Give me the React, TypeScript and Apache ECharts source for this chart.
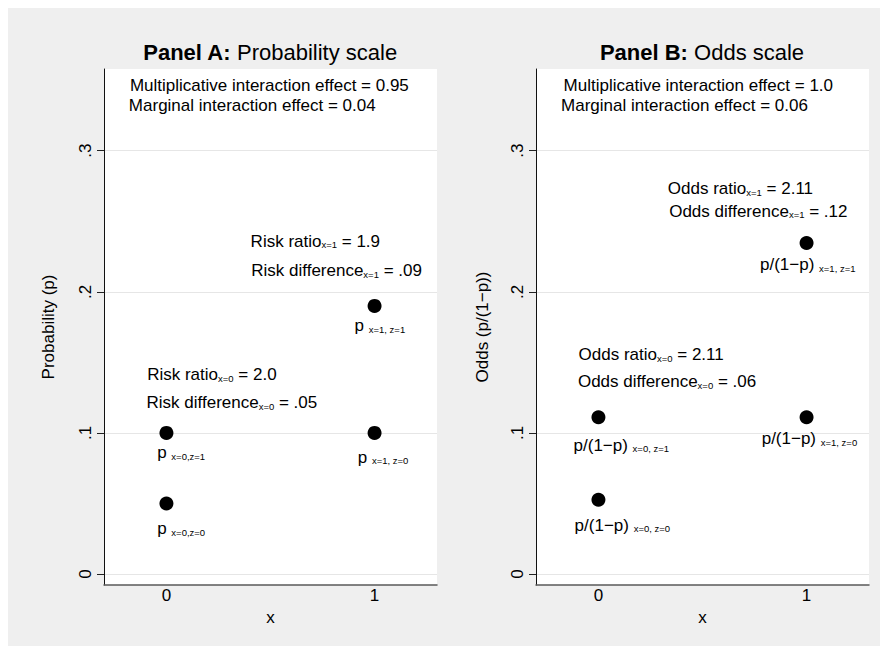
import React, { useEffect, useRef } from 'react';
import * as echarts from 'echarts';

const FONT = '"Liberation Sans", Arial, Helvetica, sans-serif';
const INK = '#000000';

// ---- data ----
const xValues = [0, 0, 1, 1];
const probabilities = [0.05, 0.1, 0.1, 0.19];
const odds = [0.0526, 0.1111, 0.1111, 0.2346];

const yTicks = [0, 0.1, 0.2, 0.3];
const xTicks = [0, 1];

const panelTitlesBold = ['Panel A:', 'Panel B:'];
const panelTitlesRest = [' Probability scale', ' Odds scale'];
const yAxisTitles = ['Probability (p)', 'Odds (p/(1\u2212p))'];
const xAxisTitle = 'x';

// annotation texts: [x, y, main, subscript, tail]
const annotationsA: [number, number, string, string, string][] = [
  [-0.178, 0.3459, 'Multiplicative interaction effect = 0.95', '', ''],
  [-0.183, 0.3319, 'Marginal interaction effect = 0.04', '', ''],
  [0.402, 0.2358, 'Risk ratio', 'x=1', ' = 1.9'],
  [0.405, 0.215, 'Risk difference', 'x=1', ' = .09'],
  [-0.095, 0.1412, 'Risk ratio', 'x=0', ' = 2.0'],
  [-0.098, 0.1212, 'Risk difference', 'x=0', ' = .05'],
  [-0.047, 0.0858, 'p ', 'x=0,z=1', ''],
  [-0.047, 0.0319, 'p ', 'x=0,z=0', ''],
  [0.9015, 0.1761, 'p ', 'x=1, z=1', ''],
  [0.917, 0.0829, 'p ', 'x=1, z=0', ''],
];

const annotationsB: [number, number, string, string, string][] = [
  [-0.17, 0.3459, 'Multiplicative interaction effect = 1.0', '', ''],
  [-0.182, 0.3319, 'Marginal interaction effect = 0.06', '', ''],
  [0.331, 0.2729, 'Odds ratio', 'x=1', ' = 2.11'],
  [0.3375, 0.257, 'Odds difference', 'x=1', ' = .12'],
  [-0.098, 0.1554, 'Odds ratio', 'x=0', ' = 2.11'],
  [-0.101, 0.1363, 'Odds difference', 'x=0', ' = .06'],
  [0.774, 0.219, 'p/(1\u2212p) ', 'x=1, z=1', ''],
  [0.782, 0.0957, 'p/(1\u2212p) ', 'x=1, z=0', ''],
  [-0.122, 0.0914, 'p/(1\u2212p) ', 'x=0, z=1', ''],
  [-0.117, 0.0347, 'p/(1\u2212p) ', 'x=0, z=0', ''],
];

const Y_MIN = -0.0078;
const Y_MAX = 0.3579;
const X_MIN = -0.3;
const X_MAX = 1.3;

const rich = {
  m: { fontFamily: FONT, fontSize: 17, color: INK },
  s: { fontFamily: FONT, fontSize: 9.5, color: INK, verticalAlign: 'bottom' },
};

function annotationData(list: [number, number, string, string, string][]) {
  return list.map(([x, y, main, sub, tail]) => {
    let text = `{m|${main}}`;
    if (sub) text += `{s|${sub}}`;
    if (tail) text += `{m|${tail}}`;
    return { value: [x, y], label: { formatter: text } };
  });
}

function fmtTick(v: number) {
  if (v === 0) return '0';
  return String(Math.round(v * 10) / 10).replace(/^0/, '');
}

export default function App() {
  const ref = useRef<HTMLDivElement>(null);

  useEffect(() => {
    if (!ref.current) return;
    const chart = echarts.init(ref.current, undefined, { renderer: 'svg' });

    const grids = [
      { left: 96, top: 61, width: 333, height: 516 },
      { left: 528, top: 61, width: 333, height: 516 },
    ];

    const xAxes = grids.map((_, i) => ({
      type: 'value',
      gridIndex: i,
      min: X_MIN,
      max: X_MAX,
      name: xAxisTitle,
      nameLocation: 'middle',
      nameGap: 16,
      nameTextStyle: { fontFamily: FONT, fontSize: 17, color: INK },
      axisLine: { show: true, onZero: false, lineStyle: { color: '#5a5a5a', width: 1.5 } },
      axisTick: { show: false, customValues: xTicks },
      axisLabel: {
        customValues: xTicks,
        fontFamily: FONT,
        fontSize: 17,
        color: INK,
        margin: 2,
        formatter: (v: number) => String(v),
      },
      splitLine: { show: false },
    }));

    const yAxes = grids.map((_, i) => ({
      type: 'value',
      gridIndex: i,
      min: Y_MIN,
      max: Y_MAX,
      name: yAxisTitles[i],
      nameLocation: 'middle',
      nameGap: i === 0 ? 47 : 45,
      nameTextStyle: { fontFamily: FONT, fontSize: 17, color: INK },
      axisLine: { show: true, onZero: false, lineStyle: { color: '#111', width: 1 } },
      axisTick: { show: true, length: 7, customValues: yTicks, lineStyle: { color: '#222', width: 1 } },
      axisLabel: {
        customValues: yTicks,
        rotate: 90,
        fontFamily: FONT,
        fontSize: 17,
        color: INK,
        margin: 10,
        formatter: fmtTick,
      },
      splitLine: { show: true, lineStyle: { color: '#e6e6e6', width: 1 } },
    }));

    const dotSeries = [probabilities, odds].map((vals, i) => ({
      type: 'scatter',
      xAxisIndex: i,
      yAxisIndex: i,
      symbol: 'circle',
      symbolSize: 14,
      itemStyle: { color: '#000', opacity: 1 },
      data: vals.map((v, k) => [xValues[k], v]),
      z: 3,
    }));

    const labelSeries = [annotationsA, annotationsB].map((list, i) => ({
      type: 'scatter',
      xAxisIndex: i,
      yAxisIndex: i,
      symbolSize: 1,
      itemStyle: { color: 'rgba(0,0,0,0)' },
      label: {
        show: true,
        position: 'right',
        distance: 0,
        align: 'left',
        verticalAlign: 'middle',
        fontFamily: FONT,
        fontSize: 17,
        color: INK,
        opacity: 1,
        rich,
      },
      emphasis: { disabled: true },
      silent: true,
      data: annotationData(list),
      z: 4,
    }));

    const titleCenters = [262, 694];
    const graphic = titleCenters.map((cx, i) => ({
      type: 'text',
      x: cx,
      y: 44,
      style: {
        text: `{b|${panelTitlesBold[i]}}{n|${panelTitlesRest[i]}}`,
        rich: {
          b: { fontFamily: FONT, fontSize: 22, fontWeight: 'bold', fill: INK, color: INK },
          n: { fontFamily: FONT, fontSize: 22, fill: INK, color: INK },
        },
        fontFamily: FONT,
        fontSize: 22,
        fill: INK,
        align: 'center',
        verticalAlign: 'middle',
        textAlign: 'center',
        textVerticalAlign: 'middle',
      },
    }));

    chart.setOption({
      animation: false,
      backgroundColor: '#efefef',
      grid: grids.map((g) => ({ ...g, show: true, backgroundColor: '#ffffff', borderWidth: 0 })),
      xAxis: xAxes,
      yAxis: yAxes,
      series: [...dotSeries, ...labelSeries],
      graphic,
    } as any);

    return () => chart.dispose();
  }, []);

  return <div ref={ref} style={{ width: 880, height: 646, marginBottom: -8 }} />;
}
